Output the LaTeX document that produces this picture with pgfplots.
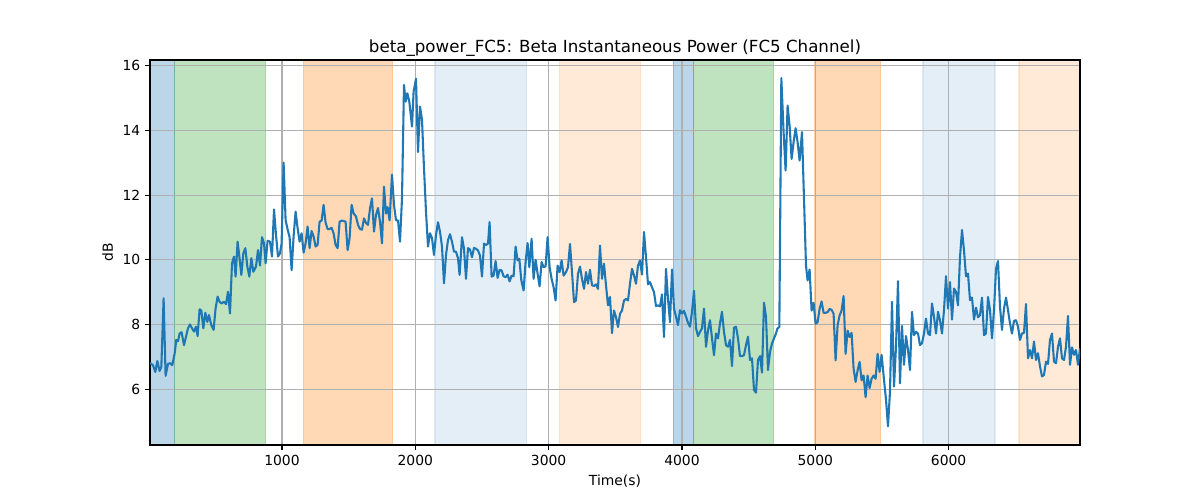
\documentclass[border=0pt]{standalone}
\usepackage{fontspec}
\setmainfont{DejaVu Sans}
\usepackage{pgfplots}
\pgfplotsset{compat=1.18}
\definecolor{cA}{RGB}{31,119,180}
\definecolor{cB}{RGB}{255,127,14}
\definecolor{cC}{RGB}{44,160,44}
\definecolor{gridc}{RGB}{176,176,176}
\pgfplotsset{span/.style={on layer=axis background, fill=#1, draw=#1, line width=1pt, mark=none}}
\begin{document}
\begin{tikzpicture}
\begin{axis}[
  at={(0,0)}, anchor=south west,
  scale only axis, width=669.6pt, height=277.2pt,
  set layers, clip mode=individual,
  xmin=10, xmax=6985, ymin=4.27, ymax=16.18,
  xtick={1000,2000,3000,4000,5000,6000},
  ytick={6,8,10,12,14,16},
  tick pos=left, tick align=outside,
  major tick length=3.5pt,
  every tick/.style={black, line width=0.8pt},
  axis line style={line width=0.8pt},
  grid=major,
  major grid style={color=gridc, line width=0.8pt},
  /pgf/number format/assume math mode=true,
  /pgf/number format/1000 sep={},
  tick label style={font=\fontsize{10}{12}\selectfont},
  xlabel={Time(s)}, ylabel={dB},
  label style={font=\fontsize{10}{12}\selectfont},
  title={beta\_power\_FC5: Beta Instantaneous Power (FC5 Channel)},
  title style={font=\fontsize{12}{14}\selectfont, yshift=-6.8pt},
]
% spans
\addplot[span=cA, fill opacity=0.3, draw opacity=0.3] coordinates {(-50,0) (-50,20) (195,20) (195,0) (-50,0)};
\addplot[span=cC, fill opacity=0.3, draw opacity=0.3] coordinates {(195,0) (195,20) (877,20) (877,0) (195,0)};
\addplot[span=cB, fill opacity=0.3, draw opacity=0.3] coordinates {(1160,0) (1160,20) (1830,20) (1830,0) (1160,0)};
\addplot[span=cA, fill opacity=0.12, draw opacity=0.12] coordinates {(2147,0) (2147,20) (2835,20) (2835,0) (2147,0)};
\addplot[span=cB, fill opacity=0.16, draw opacity=0.16] coordinates {(3080,0) (3080,20) (3690,20) (3690,0) (3080,0)};
\addplot[span=cA, fill opacity=0.3, draw opacity=0.3] coordinates {(3934,0) (3934,20) (4084,20) (4084,0) (3934,0)};
\addplot[span=cC, fill opacity=0.3, draw opacity=0.3] coordinates {(4084,0) (4084,20) (4687,20) (4687,0) (4084,0)};
\addplot[span=cB, fill opacity=0.3, draw opacity=0.3] coordinates {(4995,0) (4995,20) (5490,20) (5490,0) (4995,0)};
\addplot[span=cA, fill opacity=0.12, draw opacity=0.12] coordinates {(5807,0) (5807,20) (6347,20) (6347,0) (5807,0)};
\addplot[span=cB, fill opacity=0.16, draw opacity=0.16] coordinates {(6527,0) (6527,20) (7100,20) (7100,0) (6527,0)};
% signal
\addplot[cA, line width=1.5pt, line join=round, mark=none] coordinates {
(10,6.81) (32,6.74) (50,6.53) (65,6.87) (82,6.56) (95,6.69) (112,8.81) (127,6.41) (145,6.78) (162,6.80)
(177,6.74) (195,7.10) (207,7.52) (220,7.48) (232,7.72) (247,7.76) (265,7.36) (280,7.62) (295,7.88) (310,8.00)
(325,7.88) (340,7.78) (355,7.93) (367,7.64) (382,8.47) (395,8.43) (410,7.88) (425,8.36) (440,8.08) (452,8.29)
(470,7.98) (487,7.83) (502,8.50) (517,8.86) (532,8.70) (547,8.65) (565,8.70) (580,8.63) (595,9.01) (610,8.34)
(625,9.89) (640,10.10) (652,9.48) (667,10.56) (680,10.10) (695,9.53) (710,10.20) (725,10.36) (740,9.79) (755,9.48)
(770,10.05) (785,9.63) (805,9.79) (820,10.30) (835,9.82) (850,10.70) (865,10.51) (877,9.89) (892,10.59) (910,10.56)
(925,10.10) (940,11.56) (955,10.77) (970,10.10) (985,10.20) (997,10.50) (1012,13.01) (1027,11.23) (1042,10.94) (1057,10.70)
(1072,9.68) (1087,10.72) (1102,11.49) (1117,10.98) (1132,10.56) (1147,10.82) (1162,10.22) (1177,10.51) (1192,11.03) (1207,10.36)
(1222,10.89) (1237,10.72) (1252,10.41) (1267,10.46) (1282,11.18) (1297,11.21) (1312,11.70) (1327,11.15) (1342,10.95) (1357,10.95)
(1372,10.99) (1387,10.82) (1402,10.46) (1417,10.36) (1432,11.18) (1447,11.21) (1462,11.20) (1477,11.18) (1492,10.30) (1507,10.67)
(1522,11.70) (1537,11.44) (1555,11.34) (1570,11.08) (1585,10.95) (1600,10.93) (1615,11.28) (1630,11.14) (1645,11.08) (1660,11.59)
(1675,11.90) (1690,10.87) (1705,11.39) (1720,11.60) (1735,11.18) (1750,10.51) (1765,12.26) (1780,11.43) (1792,11.63) (1807,11.22)
(1825,12.63) (1840,11.70) (1855,11.22) (1870,11.22) (1885,10.56) (1900,11.90) (1915,15.41) (1927,14.89) (1940,15.15) (1955,14.89)
(1975,14.12) (1987,15.20) (2005,15.60) (2020,13.33) (2035,14.74) (2050,14.33) (2065,12.83) (2080,11.49) (2095,10.41) (2110,10.82)
(2125,10.67) (2140,10.15) (2155,10.77) (2170,11.16) (2185,10.87) (2200,10.41) (2215,9.27) (2230,10.15) (2245,10.61) (2260,10.79)
(2275,10.56) (2290,10.25) (2305,10.25) (2320,10.05) (2332,9.53) (2350,10.70) (2365,10.34) (2380,9.41) (2395,10.36) (2410,10.32)
(2425,10.08) (2440,10.37) (2455,10.34) (2470,10.29) (2485,10.13) (2500,9.48) (2515,10.50) (2530,10.46) (2545,10.50) (2557,11.17)
(2572,9.48) (2587,9.51) (2602,9.96) (2617,9.44) (2632,9.69) (2647,9.67) (2662,9.49) (2677,9.46) (2692,9.54) (2707,9.33)
(2722,9.51) (2737,9.49) (2752,10.41) (2767,9.98) (2780,10.03) (2795,9.36) (2812,9.05) (2827,9.93) (2842,10.52) (2855,9.77)
(2872,10.65) (2887,9.41) (2902,10.00) (2917,9.57) (2932,9.18) (2947,9.93) (2962,9.77) (2977,9.80) (2992,10.70) (3007,9.77)
(3022,9.41) (3037,9.15) (3052,8.74) (3067,9.82) (3082,9.62) (3097,9.98) (3112,9.51) (3130,9.62) (3145,9.77) (3160,10.49)
(3175,9.62) (3190,8.69) (3205,8.74) (3220,9.57) (3235,9.79) (3250,9.41) (3265,9.10) (3280,9.62) (3295,9.26) (3310,9.69)
(3325,9.21) (3340,9.19) (3355,9.24) (3370,9.10) (3385,10.44) (3400,9.41) (3415,9.88) (3430,9.21) (3445,8.59) (3460,8.85)
(3475,7.73) (3490,8.43) (3505,8.23) (3520,7.92) (3535,8.33) (3550,8.43) (3565,8.74) (3580,8.79) (3595,8.74) (3610,9.26)
(3625,9.72) (3640,9.52) (3655,9.26) (3670,9.82) (3685,9.98) (3700,9.54) (3715,10.86) (3730,10.08) (3745,9.24) (3760,9.31)
(3775,9.15) (3790,9.00) (3805,8.57) (3820,8.59) (3835,8.56) (3850,8.93) (3865,7.61) (3880,9.72) (3895,8.79) (3910,8.07)
(3925,9.70) (3940,8.49) (3955,8.24) (3970,7.98) (3985,8.44) (4000,8.34) (4015,8.42) (4030,8.24) (4045,8.05) (4060,7.93)
(4075,8.39) (4090,9.04) (4105,7.88) (4120,7.64) (4135,7.77) (4150,7.88) (4165,8.49) (4180,7.31) (4195,7.82) (4210,8.13)
(4225,7.57) (4240,7.05) (4255,7.72) (4270,7.57) (4285,8.03) (4300,8.39) (4315,7.77) (4330,7.36) (4345,7.31) (4360,7.52)
(4375,6.71) (4390,7.90) (4405,7.93) (4420,7.57) (4435,7.02) (4450,7.02) (4465,7.05) (4480,7.36) (4495,7.62) (4510,6.90)
(4525,6.95) (4540,5.97) (4555,5.89) (4570,6.90) (4585,7.02) (4600,6.51) (4615,8.67) (4630,8.24) (4645,6.59) (4660,7.15)
(4675,7.41) (4690,7.57) (4705,7.72) (4715,7.87) (4730,7.92) (4745,15.62) (4762,13.95) (4777,12.76) (4792,14.77) (4807,14.15)
(4822,13.12) (4837,13.64) (4852,14.07) (4867,13.64) (4882,13.07) (4900,13.95) (4915,11.89) (4930,9.82) (4942,9.36) (4957,9.70)
(4972,8.43) (4987,8.67) (5002,8.02) (5017,8.07) (5032,8.48) (5047,8.71) (5062,8.36) (5077,8.36) (5092,8.38) (5107,8.48)
(5122,8.45) (5137,8.33) (5152,6.89) (5167,7.97) (5182,8.28) (5197,8.43) (5212,8.88) (5227,7.09) (5242,7.81) (5257,7.61)
(5272,7.74) (5287,6.63) (5302,6.22) (5317,6.58) (5332,6.84) (5347,6.27) (5362,6.42) (5377,5.75) (5392,6.42) (5407,6.03)
(5422,6.32) (5437,6.42) (5452,6.32) (5467,7.09) (5482,6.53) (5497,7.06) (5515,6.29) (5530,5.67) (5545,4.85) (5560,5.93)
(5575,8.70) (5590,6.08) (5605,7.31) (5620,9.34) (5635,6.18) (5650,7.95) (5665,6.75) (5680,7.64) (5695,7.21) (5710,6.59)
(5725,8.39) (5740,7.67) (5755,7.77) (5770,7.72) (5785,7.36) (5800,7.42) (5815,7.72) (5830,8.18) (5845,7.72) (5860,7.67)
(5875,8.65) (5890,8.24) (5905,7.72) (5920,8.39) (5935,8.13) (5950,7.72) (5965,8.44) (5980,9.49) (5995,8.49) (6010,9.31)
(6025,8.15) (6040,9.11) (6055,9.01) (6070,8.59) (6085,10.08) (6100,10.92) (6115,10.29) (6130,9.49) (6145,9.57) (6160,8.75)
(6175,8.83) (6190,8.15) (6205,8.52) (6220,8.22) (6235,8.29) (6250,8.83) (6265,7.67) (6280,7.72) (6295,8.85) (6310,8.44)
(6325,7.57) (6340,8.44) (6355,9.72) (6370,9.96) (6385,8.54) (6400,7.83) (6415,8.49) (6430,8.83) (6445,8.44) (6460,8.03)
(6475,7.72) (6490,8.11) (6505,8.13) (6520,7.93) (6535,7.52) (6550,7.72) (6565,7.74) (6580,8.63) (6595,6.95) (6610,7.21)
(6625,6.95) (6640,7.47) (6655,6.90) (6670,7.11) (6685,6.70) (6700,6.39) (6715,6.44) (6730,6.85) (6745,6.78) (6760,7.52)
(6775,7.72) (6790,6.85) (6805,6.80) (6820,7.31) (6835,7.57) (6850,6.95) (6865,6.90) (6880,7.31) (6895,8.26) (6910,6.75)
(6925,7.29) (6940,7.06) (6955,7.21) (6970,6.75) (6985,7.26)
};
\end{axis}
\path (-108pt,-39.6pt) rectangle (756pt,320.4pt);
\end{tikzpicture}
\end{document}
